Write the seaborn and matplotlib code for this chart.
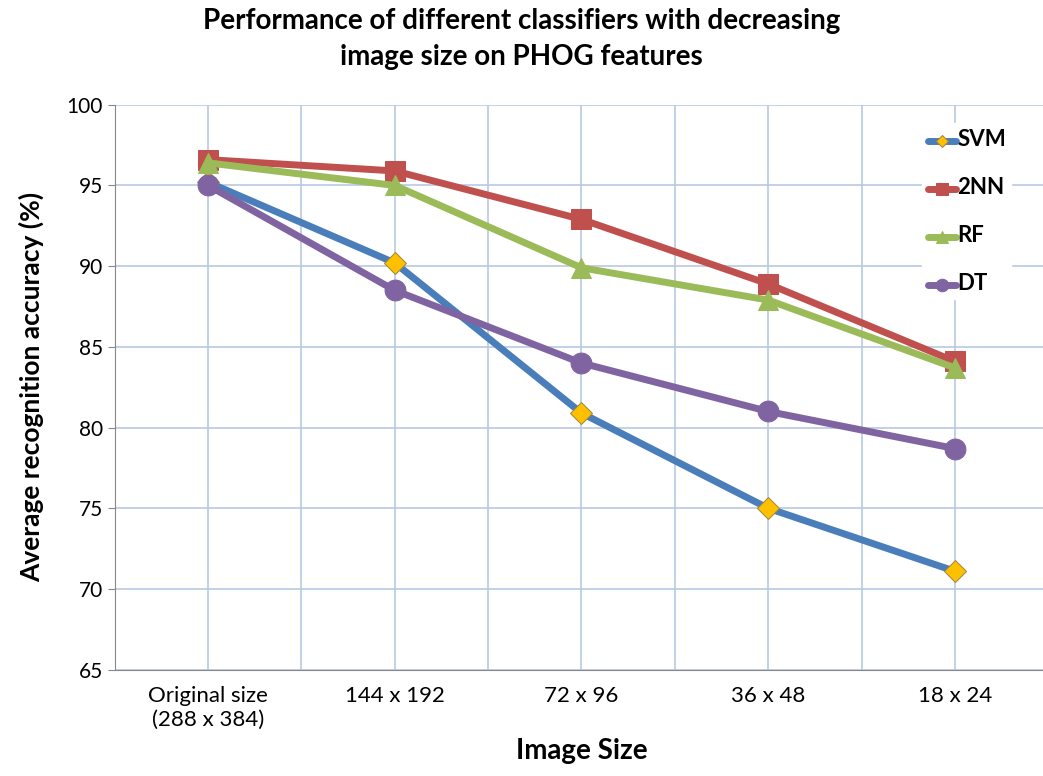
import pandas as pd
import matplotlib.pyplot as plt
import seaborn as sns

sizes = ['Original size\n(288 x 384)', '144 x 192', '72 x 96', '36 x 48', '18 x 24']
svm = [95.2, 90.2, 80.9, 75.0, 71.1]
nn2 = [96.6, 95.9, 92.9, 88.9, 84.1]
rf = [96.4, 95.0, 89.9, 87.9, 83.7]
dt = [95.0, 88.5, 84.0, 81.0, 78.7]

series = {'SVM': svm, '2NN': nn2, 'RF': rf, 'DT': dt}
styles = {
    'SVM': dict(color='#4A7EBB', marker='D', markerfacecolor='#FFC000', markeredgecolor='#A08A40', markersize=11),
    '2NN': dict(color='#C0504D', marker='s', markerfacecolor='#C0504D', markeredgecolor='#C0504D', markersize=15),
    'RF': dict(color='#9BBB59', marker='^', markerfacecolor='#9BBB59', markeredgecolor='#9BBB59', markersize=15),
    'DT': dict(color='#8064A2', marker='o', markerfacecolor='#8064A2', markeredgecolor='#8064A2', markersize=15),
}

rows = []
for name, vals in series.items():
    for i, v in enumerate(vals):
        rows.append({'pos': i, 'acc': v, 'clf': name})
df = pd.DataFrame(rows)

sns.set_style('white')
plt.rcParams['font.family'] = ['Lato', 'DejaVu Sans']
plt.rcParams['text.color'] = 'black'
plt.rcParams['xtick.color'] = 'black'
plt.rcParams['ytick.color'] = 'black'
plt.rcParams['axes.labelcolor'] = 'black'

fig = plt.figure(figsize=(10.43, 7.76), dpi=100)
ax = fig.add_axes([0.110, 0.137, 0.895, 0.728])

for name in series:
    sub = df[df['clf'] == name]
    sns.lineplot(data=sub, x='pos', y='acc', ax=ax, linewidth=5, label=name, **styles[name])

ax.set_xlim(-0.5, 4.5)
ax.set_ylim(65, 100)
ax.set_yticks(range(65, 101, 5))
ax.set_xticks(range(len(sizes)))
ax.set_xticklabels(sizes, fontsize=16)
ax.set_xticks([i - 0.5 for i in range(len(sizes) + 1)], minor=True)
ax.tick_params(axis='y', labelsize=15, left=True, length=5, color='#888888')
ax.tick_params(axis='x', which='both', length=0, pad=12)
ax.grid(True, which='both', axis='x', color='#B9C9E3', linewidth=1.2)
ax.grid(True, which='major', axis='y', color='#B9C9E3', linewidth=1.2)

for s in ['top', 'right']:
    ax.spines[s].set_visible(False)
ax.spines['left'].set_color('#888888')
ax.spines['bottom'].set_color('#888888')

ax.set_xlabel('Image Size', fontsize=20, fontweight='bold', labelpad=6)
ax.set_ylabel('Average recognition accuracy (%)', fontsize=19, fontweight='bold', labelpad=16)
fig.suptitle('Performance of different classifiers with decreasing\nimage size on PHOG features',
             fontsize=20, fontweight='bold', y=0.99, linespacing=1.5)

leg = ax.legend(loc='upper right', bbox_to_anchor=(0.965, 0.975), frameon=True, facecolor='white',
                edgecolor='white', framealpha=1, labelspacing=1.95, handlelength=2.0, handletextpad=0.1,
                borderaxespad=0.3, markerscale=0.6)
for t in leg.get_texts():
    t.set_fontweight('bold')
    t.set_fontsize(16)

fig.savefig('out.png', dpi=100)
